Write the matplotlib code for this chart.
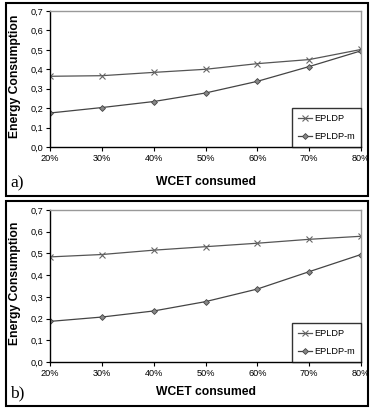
import matplotlib.pyplot as plt
from matplotlib.patches import Rectangle
from matplotlib.ticker import FuncFormatter

wcet = ['20%', '30%', '40%', '50%', '60%', '70%', '80%']
epldp_a = [0.364, 0.367, 0.384, 0.400, 0.429, 0.450, 0.502]
epldp_m_a = [0.175, 0.203, 0.234, 0.278, 0.338, 0.414, 0.495]
epldp_b = [0.484, 0.495, 0.515, 0.531, 0.547, 0.565, 0.579]
epldp_m_b = [0.187, 0.207, 0.235, 0.278, 0.336, 0.416, 0.495]

W, H = 370, 411
plt.rcParams['font.family'] = ['Liberation Sans', 'DejaVu Sans']

fig = plt.figure(figsize=(W / 100, H / 100), dpi=100)


def px(x0, y0, x1, y1):
    # pixel box (top-left origin) -> figure fraction rect
    return [x0 / W, 1 - y1 / H, (x1 - x0) / W, (y1 - y0) / H]


def panel(rect, box, a, m, tag):
    ax = fig.add_axes(px(*rect))
    x = list(range(len(wcet)))
    ax.plot(x, a, color='#555555', lw=0.9, marker='x', ms=4.5, mew=0.8,
            mec='#666666', label='EPLDP')
    ax.plot(x, m, color='#444444', lw=0.9, marker='D', ms=3, mew=0.6,
            mfc='#888888', mec='#444444', label='EPLDP-m')
    ax.set_xlim(0, len(wcet) - 1)
    ax.set_ylim(0, 0.7)
    ax.set_xticks(x)
    ax.set_xticklabels(wcet)
    ax.set_yticks([i / 10 for i in range(8)])
    ax.yaxis.set_major_formatter(FuncFormatter(lambda v, p: f'{v:.1f}'.replace('.', ',')))
    ax.tick_params(labelsize=6.6, length=3, width=0.8, direction='out', pad=2)
    for s in ['top', 'right']:
        ax.spines[s].set_color('#999999')
        ax.spines[s].set_linewidth(1.0)
    for s in ['left', 'bottom']:
        ax.spines[s].set_color('black')
        ax.spines[s].set_linewidth(1.0)
    leg = ax.legend(loc='lower right', fontsize=6.6, frameon=True, fancybox=False,
                    edgecolor='black', handlelength=1.6, borderaxespad=0.05,
                    labelspacing=1.0, borderpad=0.6, handletextpad=0.2)
    leg.get_frame().set_linewidth(1.0)

    x0, y0, x1, y1 = rect
    fig.text(15 / W, 1 - ((y0 + y1) / 2 - 3) / H, 'Energy Consumption', rotation=90,
             ha='center', va='center', fontsize=8.7, fontweight='bold')
    bx0, by0, bx1, by1 = box
    fig.text(206 / W, 1 - (by1 - 14) / H, 'WCET consumed', ha='center', va='center',
             fontsize=8.7, fontweight='bold')
    fig.text(10 / W, 1 - (by1 - 13) / H, tag, ha='left', va='center',
             fontsize=12.5, family='Liberation Serif')
    fig.patches.append(Rectangle((bx0 / W, 1 - by1 / H), (bx1 - bx0) / W, (by1 - by0) / H,
                                 transform=fig.transFigure, fill=False,
                                 edgecolor='black', lw=1.5))


panel((50, 11, 361, 147), (6, 3, 368, 196), epldp_a, epldp_m_a, 'a)')
panel((50, 210, 361, 362), (6, 201, 368, 406), epldp_b, epldp_m_b, 'b)')

fig.savefig('out.png', dpi=100)
